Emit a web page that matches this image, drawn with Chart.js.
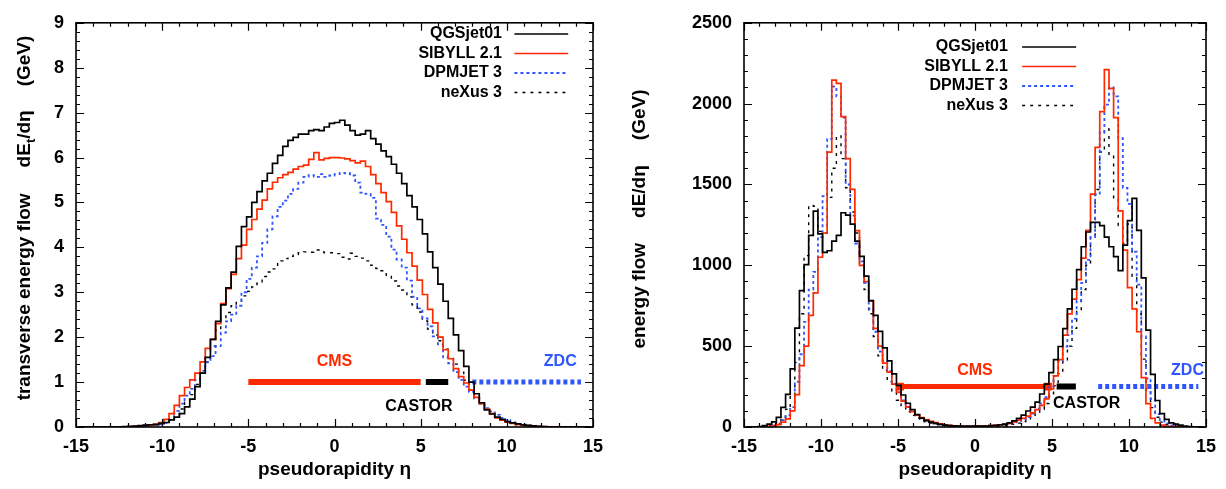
<!DOCTYPE html>
<html>
<head>
<meta charset="utf-8">
<script src="https://cdn.jsdelivr.net/npm/chart.js@4.4.1/dist/chart.umd.min.js"></script>
<style>
  html, body { margin: 0; padding: 0; background: #ffffff; }
  #wrap { position: relative; width: 1226px; height: 489px; background: #ffffff; }
  .panel { position: absolute; top: 0; width: 613px; height: 489px; }
  canvas { display: block; }
</style>
</head>
<body>
<div id="wrap">
  <div class="panel" style="left:0px"><canvas id="leftChart" width="613" height="489"></canvas></div>
  <div class="panel" style="left:613px"><canvas id="rightChart" width="613" height="489"></canvas></div>
</div>
<script>
// ---------------- data ----------------
const etaBins = [
  -14.85, -14.55, -14.25, -13.95, -13.65, -13.35, -13.05, -12.75, -12.45, -12.15,
  -11.85, -11.55, -11.25, -10.95, -10.65, -10.35, -10.05, -9.75, -9.45, -9.15,
  -8.85, -8.55, -8.25, -7.95, -7.65, -7.35, -7.05, -6.75, -6.45, -6.15,
  -5.85, -5.55, -5.25, -4.95, -4.65, -4.35, -4.05, -3.75, -3.45, -3.15,
  -2.85, -2.55, -2.25, -1.95, -1.65, -1.35, -1.05, -0.75, -0.45, -0.15,
  0.15, 0.45, 0.75, 1.05, 1.35, 1.65, 1.95, 2.25, 2.55, 2.85,
  3.15, 3.45, 3.75, 4.05, 4.35, 4.65, 4.95, 5.25, 5.55, 5.85,
  6.15, 6.45, 6.75, 7.05, 7.35, 7.65, 7.95, 8.25, 8.55, 8.85,
  9.15, 9.45, 9.75, 10.05, 10.35, 10.65, 10.95, 11.25, 11.55, 11.85,
  12.15, 12.45, 12.75, 13.05, 13.35, 13.65, 13.95, 14.25, 14.55, 14.85
];

const seriesNames = ['QGSjet01', 'SIBYLL 2.1', 'DPMJET 3', 'neXus 3'];

// transverse energy flow dEt/deta (GeV)
const etQGSjet = [
  0,0,0,0,0,0,0,0,0.005,0.01,
  0.015,0.02,0.03,0.04,0.05,0.06,0.08,0.1,0.16,0.22,
  0.3,0.45,0.62,0.9,1.2,1.55,1.95,2.35,2.72,3.1,
  3.45,4.02,4.46,4.68,5.0,5.24,5.48,5.65,5.87,6.05,
  6.25,6.38,6.45,6.52,6.52,6.6,6.62,6.6,6.68,6.76,
  6.78,6.83,6.72,6.6,6.5,6.52,6.6,6.42,6.3,6.15,
  6.02,5.85,5.65,5.42,5.15,4.9,4.62,4.3,3.9,3.55,
  3.18,2.8,2.42,2.05,1.7,1.35,1.0,0.74,0.54,0.38,
  0.29,0.22,0.17,0.12,0.09,0.07,0.05,0.035,0.025,0.015,
  0.01,0.005,0,0,0,0,0,0,0,0
];
const etSibyll = [
  0,0,0,0,0,0,0,0,0,0.005,
  0.01,0.015,0.02,0.03,0.04,0.06,0.1,0.17,0.3,0.48,
  0.7,0.88,1.05,1.2,1.45,1.75,1.95,2.3,2.75,3.08,
  3.4,3.75,4.05,4.4,4.62,4.85,5.05,5.3,5.45,5.55,
  5.62,5.67,5.74,5.8,5.83,5.96,6.11,5.95,5.98,6.0,
  6.0,5.99,5.97,5.93,5.88,5.92,5.8,5.62,5.42,5.22,
  5.02,4.78,4.48,4.18,3.88,3.58,3.27,2.95,2.62,2.32,
  2.0,1.72,1.52,1.3,1.12,0.98,0.82,0.66,0.52,0.4,
  0.3,0.2,0.15,0.11,0.08,0.06,0.04,0.03,0.02,0.015,
  0.01,0.005,0,0,0,0,0,0,0,0
];
const etDpmjet = [
  0,0,0,0,0,0,0,0,0,0,
  0.005,0.01,0.015,0.02,0.03,0.04,0.06,0.09,0.17,0.36,
  0.52,0.7,0.85,1.05,1.25,1.44,1.58,1.8,2.1,2.35,
  2.5,2.7,3.0,3.3,3.55,3.8,4.1,4.4,4.69,4.9,
  5.04,5.19,5.3,5.44,5.57,5.61,5.57,5.63,5.57,5.6,
  5.63,5.66,5.65,5.6,5.44,5.22,5.19,5.1,4.64,4.5,
  4.24,3.95,3.73,3.55,3.26,2.9,2.64,2.42,2.24,2.02,
  1.84,1.55,1.42,1.22,1.05,0.9,0.78,0.64,0.52,0.42,
  0.35,0.27,0.2,0.15,0.1,0.07,0.05,0.03,0.02,0.01,
  0.005,0,0,0,0,0,0,0,0,0
];
const etNexus = [
  0,0,0,0,0,0,0,0,0,0,
  0.005,0.01,0.01,0.02,0.03,0.05,0.07,0.1,0.15,0.25,
  0.4,0.55,0.72,0.95,1.2,1.45,1.8,2.16,2.4,2.55,
  2.7,2.8,2.92,3.02,3.12,3.2,3.35,3.45,3.52,3.7,
  3.75,3.8,3.84,3.88,3.9,3.89,3.94,3.9,3.88,3.88,
  3.86,3.78,3.74,3.87,3.8,3.76,3.7,3.6,3.53,3.48,
  3.38,3.25,3.14,3.05,2.9,2.72,2.56,2.36,2.18,2.05,
  1.92,1.73,1.55,1.4,1.22,1.04,0.82,0.67,0.52,0.39,
  0.3,0.21,0.15,0.1,0.07,0.05,0.03,0.02,0.01,0.005,
  0,0,0,0,0,0,0,0,0,0
];

// energy flow dE/deta (GeV)
const eQGSjet = [
  0,0,0,3,8,18,32,60,121,202,
  359,611,843,1004,1185,1335,1195,1080,1090,1150,
  1185,1325,1310,1255,1150,1055,933,782,691,591,
  490,409,329,258,198,147,107,77,55,40,
  30,22,16,12,9,7,6,5,5,5,
  5,5,6,8,10,14,18,26,38,53,
  73,99,123,154,204,265,336,417,498,609,
  730,852,973,1115,1206,1266,1266,1246,1175,1115,
  1054,967,1125,1276,1414,1216,922,599,326,164,
  83,47,26,18,12,6,3,0,0,0
];
const eSibyll = [
  0,0,0,0,2,4,8,15,30,50,
  100,200,380,500,690,830,1050,1200,1700,2145,
  2125,1920,1660,1470,1215,1000,900,780,610,500,
  395,340,265,215,160,125,95,75,58,45,
  35,27,20,14,10,7,5,4,4,4,
  5,5,6,8,10,13,17,22,32,42,
  53,67,87,107,134,174,235,316,417,568,
  700,791,912,1044,1216,1440,1730,1950,2210,2095,
  1913,1337,1094,862,730,589,305,144,53,25,
  12,6,3,2,0,0,0,0,0,0
];
const eDpmjet = [
  0,0,0,0,3,6,12,22,42,73,
  123,280,450,650,850,960,1175,1428,1782,2106,
  2045,1914,1500,1307,1135,1024,892,730,589,467,
  407,346,265,214,164,123,93,73,53,40,
  30,22,16,12,8,6,4,3,3,3,
  3,4,5,7,9,12,16,21,28,37,
  48,62,83,113,144,184,245,316,407,498,
  568,670,781,892,1034,1175,1438,1822,1994,2101,
  2045,1786,1479,1380,1084,880,560,300,174,80,
  42,22,10,5,2,0,0,0,0,0
];
const eNexus = [
  0,0,0,0,2,8,16,32,60,110,
  200,400,700,1060,1370,1365,1210,1200,1420,1600,
  1800,1660,1480,1330,1200,1000,850,700,560,440,
  350,280,215,165,125,95,72,55,42,32,
  24,18,13,9,6,4,3,2,2,2,
  2,2,2,3,4,6,8,12,17,24,
  33,45,60,80,110,145,190,255,330,410,
  500,610,720,850,1000,1180,1469,1701,1843,1681,
  1418,1246,1135,1256,932,700,420,230,120,60,
  30,15,7,3,0,0,0,0,0,0
];

// tick labels
const etaTicks = [-15, -10, -5, 0, 5, 10, 15];
const etTicks = [0, 1, 2, 3, 4, 5, 6, 7, 8, 9];
const eTicks = [0, 500, 1000, 1500, 2000, 2500];

// detector acceptance ranges (eta) and drawing levels
const cmsRange = [-5, 5];
const castorRange = [5.3, 6.6];
const zdcRange = [8.0, 14.3];
const cmsRangeE = [-4.87, 4.74];
const castorRangeE = [5.3, 6.55];
const zdcRangeE = [8.0, 14.5];
const detectorLevelEt = 1;
const detectorLevelE = 250;

// ---------------- styling ----------------
const FAMILY = '"Liberation Sans", Arial, Helvetica, sans-serif';
const RED = '#ff2a00';
const BLUE = '#2f55ff';
const seriesColors = ['#000000', RED, BLUE, '#000000'];
const seriesDash = [[], [], [3, 3], [3, 5]];
const seriesWidth = [1.7, 1.7, 1.8, 1.4];

Chart.defaults.font.family = FAMILY;
Chart.defaults.color = '#000';

function drawRotTitle(ctx, cx, cy, segs, size) {
  ctx.save();
  ctx.translate(cx, cy);
  ctx.rotate(-Math.PI / 2);
  ctx.textBaseline = 'middle';
  ctx.textAlign = 'left';
  ctx.fillStyle = '#000';
  const main = 'bold ' + size + 'px ' + FAMILY;
  const sub = 'bold ' + Math.round(size * 0.7) + 'px ' + FAMILY;
  const widths = segs.map(s => {
    if (s.gap) return s.gap;
    ctx.font = s.sub ? sub : main;
    return ctx.measureText(s.t).width;
  });
  const total = widths.reduce((a, b) => a + b, 0);
  let x = -total / 2;
  segs.forEach((s, i) => {
    if (!s.gap) {
      ctx.font = s.sub ? sub : main;
      ctx.fillText(s.t, x, s.sub ? size * 0.32 : 0);
    }
    x += widths[i];
  });
  ctx.restore();
}

function makeDecor(p) {
  return {
    id: 'decor_' + p.id,
    afterDatasetsDraw(chart) {
      const ctx = chart.ctx;
      const a = chart.chartArea;
      const xs = chart.scales.x, ys = chart.scales.y;
      ctx.save();
      // detector labels
      ctx.textAlign = 'center';
      ctx.textBaseline = 'middle';
      ctx.font = 'bold 16px ' + FAMILY;
      p.labels.forEach(l => {
        ctx.fillStyle = l.color;
        ctx.fillText(l.text, xs.getPixelForValue(l.x), ys.getPixelForValue(l.y));
      });
      // inward tick marks on all four sides
      ctx.strokeStyle = '#000';
      ctx.lineWidth = 1.2;
      ctx.beginPath();
      const nx = Math.round((xs.max - xs.min) / p.xMinor);
      for (let i = 0; i <= nx; i++) {
        const v = xs.min + i * p.xMinor;
        const r = v / p.xMajor;
        const len = Math.abs(r - Math.round(r)) < 1e-6 ? 8 : 4;
        const px = Math.round(xs.getPixelForValue(v)) + 0.5;
        ctx.moveTo(px, a.bottom); ctx.lineTo(px, a.bottom - len);
        ctx.moveTo(px, a.top); ctx.lineTo(px, a.top + len);
      }
      const ny = Math.round((ys.max - ys.min) / p.yMinor);
      for (let i = 0; i <= ny; i++) {
        const v = ys.min + i * p.yMinor;
        const r = v / p.yMajor;
        const len = Math.abs(r - Math.round(r)) < 1e-6 ? 8 : 4;
        const py = Math.round(ys.getPixelForValue(v)) + 0.5;
        ctx.moveTo(a.left, py); ctx.lineTo(a.left + len, py);
        ctx.moveTo(a.right, py); ctx.lineTo(a.right - len, py);
      }
      ctx.stroke();
      // frame
      ctx.lineWidth = 1.6;
      ctx.strokeRect(a.left, a.top, a.right - a.left, a.bottom - a.top);
      // legend
      const xt = a.left + p.legend.textRight * (a.right - a.left);
      const x1 = a.left + p.legend.lineFrom * (a.right - a.left);
      const x2 = a.left + p.legend.lineTo * (a.right - a.left);
      seriesNames.forEach((name, k) => {
        const yy = p.legend.rows[k];
        ctx.font = 'bold 16px ' + FAMILY;
        ctx.textAlign = 'right';
        ctx.textBaseline = 'middle';
        ctx.fillStyle = '#000';
        ctx.fillText(name, xt, yy);
        ctx.strokeStyle = seriesColors[k];
        ctx.lineWidth = seriesWidth[k];
        ctx.setLineDash(seriesDash[k]);
        ctx.beginPath();
        ctx.moveTo(x1, yy); ctx.lineTo(x2, yy);
        ctx.stroke();
        ctx.setLineDash([]);
      });
      // y title
      drawRotTitle(ctx, p.yTitleX, p.yTitleY, p.yTitle, 19);
      ctx.restore();
    }
  };
}

function buildPanel(canvasId, p) {
  const datasets = p.series.map((vals, k) => ({
    label: seriesNames[k],
    data: vals,
    borderColor: seriesColors[k],
    borderDash: seriesDash[k],
    borderWidth: seriesWidth[k],
    stepped: 'middle',
    pointRadius: 0,
    fill: false,
    order: k
  }));
  p.bars.forEach((b, k) => datasets.push({
    label: b.name,
    data: [{ x: b.range[0], y: p.level }, { x: b.range[1], y: p.level }],
    borderColor: b.color,
    borderWidth: b.width,
    borderDash: b.dash,
    borderCapStyle: 'butt',
    pointRadius: b.endRadius || 0,
    pointStyle: 'rect',
    pointBackgroundColor: b.color,
    pointBorderColor: b.color,
    pointBorderWidth: 0,
    fill: false,
    order: 10 + k
  }));

  return new Chart(document.getElementById(canvasId), {
    type: 'line',
    data: { labels: etaBins, datasets },
    options: {
      responsive: false,
      animation: false,
      devicePixelRatio: 1,
      events: [],
      layout: { padding: { left: 0, right: p.padRight, top: 15, bottom: 0 } },
      plugins: { legend: { display: false }, tooltip: { enabled: false }, title: { display: false } },
      scales: {
        x: {
          type: 'linear', min: -15, max: 15,
          afterBuildTicks: s => { s.ticks = etaTicks.map(v => ({ value: v })); },
          afterFit: s => { s.height = 62; },
          ticks: { font: { size: 18, weight: 'bold' }, color: '#000', padding: 9,
                   maxRotation: 0, autoSkip: false, callback: v => String(v) },
          grid: { display: false, drawTicks: false },
          border: { display: false },
          title: { display: true, text: 'pseudorapidity η', color: '#000',
                   font: { size: 19, weight: 'bold' }, padding: { top: 0, bottom: 8 } }
        },
        y: {
          type: 'linear', min: p.yMin, max: p.yMax,
          afterBuildTicks: s => { s.ticks = p.yTicks.map(v => ({ value: v })); },
          afterFit: s => { s.width = p.yAxisWidth; },
          ticks: { font: { size: 18, weight: 'bold' }, color: '#000', padding: p.yPad,
                   autoSkip: false, callback: v => String(v) },
          grid: { display: false, drawTicks: false },
          border: { display: false }
        }
      }
    },
    plugins: [makeDecor(p)]
  });
}

buildPanel('leftChart', {
  id: 'et',
  series: [etQGSjet, etSibyll, etDpmjet, etNexus],
  yMin: 0, yMax: 9, yTicks: etTicks,
  yAxisWidth: 76, padRight: 20, yPad: 12,
  xMinor: 1, xMajor: 5, yMinor: 0.2, yMajor: 1,
  level: detectorLevelEt,
  bars: [
    { name: 'CMS', range: cmsRange, color: RED, width: 6, dash: [] },
    { name: 'CASTOR', range: castorRange, color: '#000', width: 6, dash: [] },
    { name: 'ZDC', range: zdcRange, color: BLUE, width: 5, dash: [4, 3] }
  ],
  labels: [
    { text: 'CMS', x: 0.0, y: 1.46, color: RED },
    { text: 'CASTOR', x: 4.9, y: 0.46, color: '#000' },
    { text: 'ZDC', x: 13.1, y: 1.46, color: BLUE }
  ],
  legend: { textRight: 0.824, lineFrom: 0.848, lineTo: 0.952, rows: [34, 53.5, 73, 92.5] },
  yTitleX: 25, yTitleY: 218,
  yTitle: [{ t: 'transverse energy flow' }, { gap: 26 }, { t: 'dE' }, { t: 't', sub: true },
           { t: '/dη' }, { gap: 24 }, { t: '(GeV)' }]
});

buildPanel('rightChart', {
  id: 'e',
  series: [eQGSjet, eSibyll, eDpmjet, eNexus],
  yMin: 0, yMax: 2500, yTicks: eTicks,
  yAxisWidth: 131, padRight: 20, yPad: 12,
  xMinor: 1, xMajor: 5, yMinor: 100, yMajor: 500,
  level: detectorLevelE,
  bars: [
    { name: 'CMS', range: cmsRangeE, color: RED, width: 5, dash: [], endRadius: 5.5 },
    { name: 'CASTOR', range: castorRangeE, color: '#000', width: 6, dash: [] },
    { name: 'ZDC', range: zdcRangeE, color: BLUE, width: 5, dash: [4, 3] }
  ],
  labels: [
    { text: 'CMS', x: 0.0, y: 350, color: RED },
    { text: 'CASTOR', x: 7.25, y: 147, color: '#000' },
    { text: 'ZDC', x: 13.8, y: 350, color: BLUE }
  ],
  legend: { textRight: 0.571, lineFrom: 0.602, lineTo: 0.719, rows: [47, 66.5, 86, 105.5] },
  yTitleX: 27, yTitleY: 219,
  yTitle: [{ t: 'energy flow' }, { gap: 25 }, { t: 'dE/dη' }, { gap: 25 }, { t: '(GeV)' }]
});
</script>
</body>
</html>
